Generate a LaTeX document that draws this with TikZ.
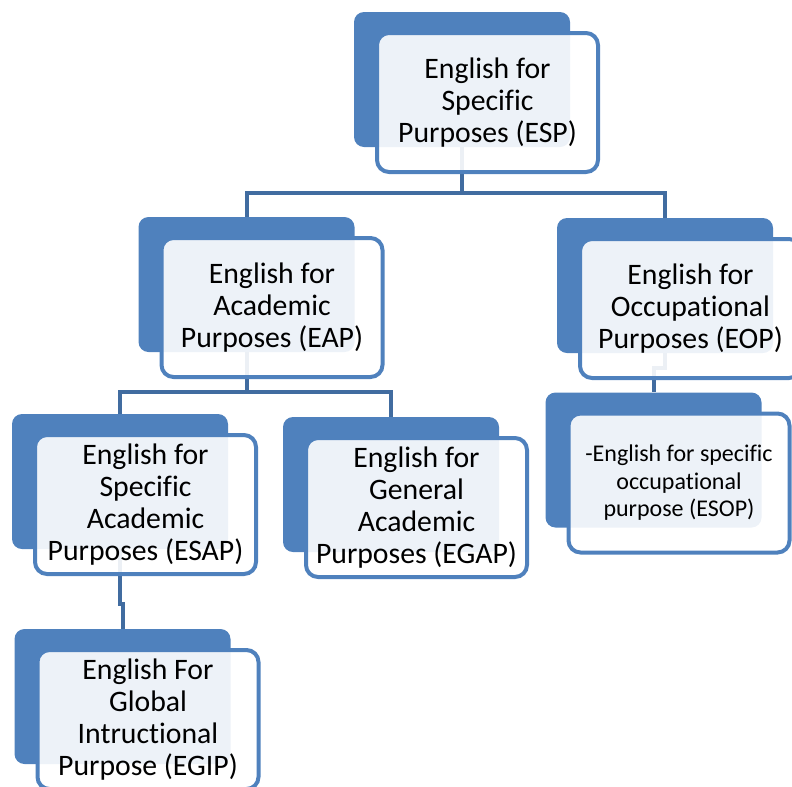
\documentclass[tikz,border=0pt]{standalone}
\usepackage{fontspec}
\setmainfont{Carlito}[Ligatures={NoCommon,NoRare}]
\usepackage{xcolor}
\usepackage{tikz}
\usetikzlibrary{positioning}
\definecolor{boxblue}{RGB}{79,129,189}
\definecolor{linkblue}{RGB}{65,108,160}
\tikzset{
	backbox/.style={fill=boxblue, rounded corners=7.5pt, minimum width=162pt, minimum height=101.25pt, inner sep=0pt},
	frontbox/.style={draw=boxblue, line width=3pt, fill=white, fill opacity=0.9, text opacity=1, rounded corners=9pt, minimum width=165.75pt, minimum height=104.25pt, inner sep=0pt, align=center, font=\fontsize{22.3}{24}\selectfont},
	link/.style={draw=linkblue, line width=3pt}
}

\begin{document}
\begin{tikzpicture}[x=0.75pt, y=-0.75pt]
	\useasboundingbox (0,0) rectangle (792,786);
	\clip (0,0) rectangle (792,786);
	\node[backbox] (espB) at (462,79.5) {};
	\node[backbox] (eapB) at (246.5,284.5) {};
	\node[backbox] (eopB) at (665,285.5) {};
	\node[backbox] (esapB) at (120,481.5) {};
	\node[backbox] (egapB) at (391,484.5) {};
	\node[backbox] (esopB) at (653.5,460) {};
	\node[backbox] (egipB) at (122.5,696.5) {};
	\draw[link] (espB.south) -- ++(0,46) -| (eapB.north);
	\draw[link] (espB.south) -- ++(0,46) -| (eopB.north);
	\draw[link] (eapB.south) -- ++(0,40) -| (esapB.north);
	\draw[link] (eapB.south) -- ++(0,40) -| (egapB.north);
	\draw[link] (eopB.south) -- ++(0,15) -| (esopB.north);
	\draw[link] (esapB.south) -- ++(0,55) -| (egipB.north);
	\node[frontbox] (esp) at ([shift={(25.5,23)}]espB.center) {English for\\Specific\\Purposes (ESP)};
	\node[frontbox] (eap) at ([shift={(25.5,23)}]eapB.center) {English for\\Academic\\Purposes (EAP)};
	\node[frontbox] (eop) at ([shift={(25.5,23)}]eopB.center) {English for\\Occupational\\Purposes (EOP)};
	\node[frontbox] (esap) at ([shift={(25.5,23)}]esapB.center) {English for\\Specific\\Academic\\Purposes (ESAP)};
	\node[frontbox] (egap) at ([shift={(25.5,23)}]egapB.center) {English for\\General\\Academic\\Purposes (EGAP)};
	\node[frontbox, font=\fontsize{18}{20.6}\selectfont] (esop) at ([shift={(25.5,23)}]esopB.center) {-English for specific\\occupational\\purpose (ESOP)};
	\node[frontbox] (egip) at ([shift={(25.5,23)}]egipB.center) {English For\\Global\\Intructional\\Purpose (EGIP)};
\end{tikzpicture}
\end{document}
